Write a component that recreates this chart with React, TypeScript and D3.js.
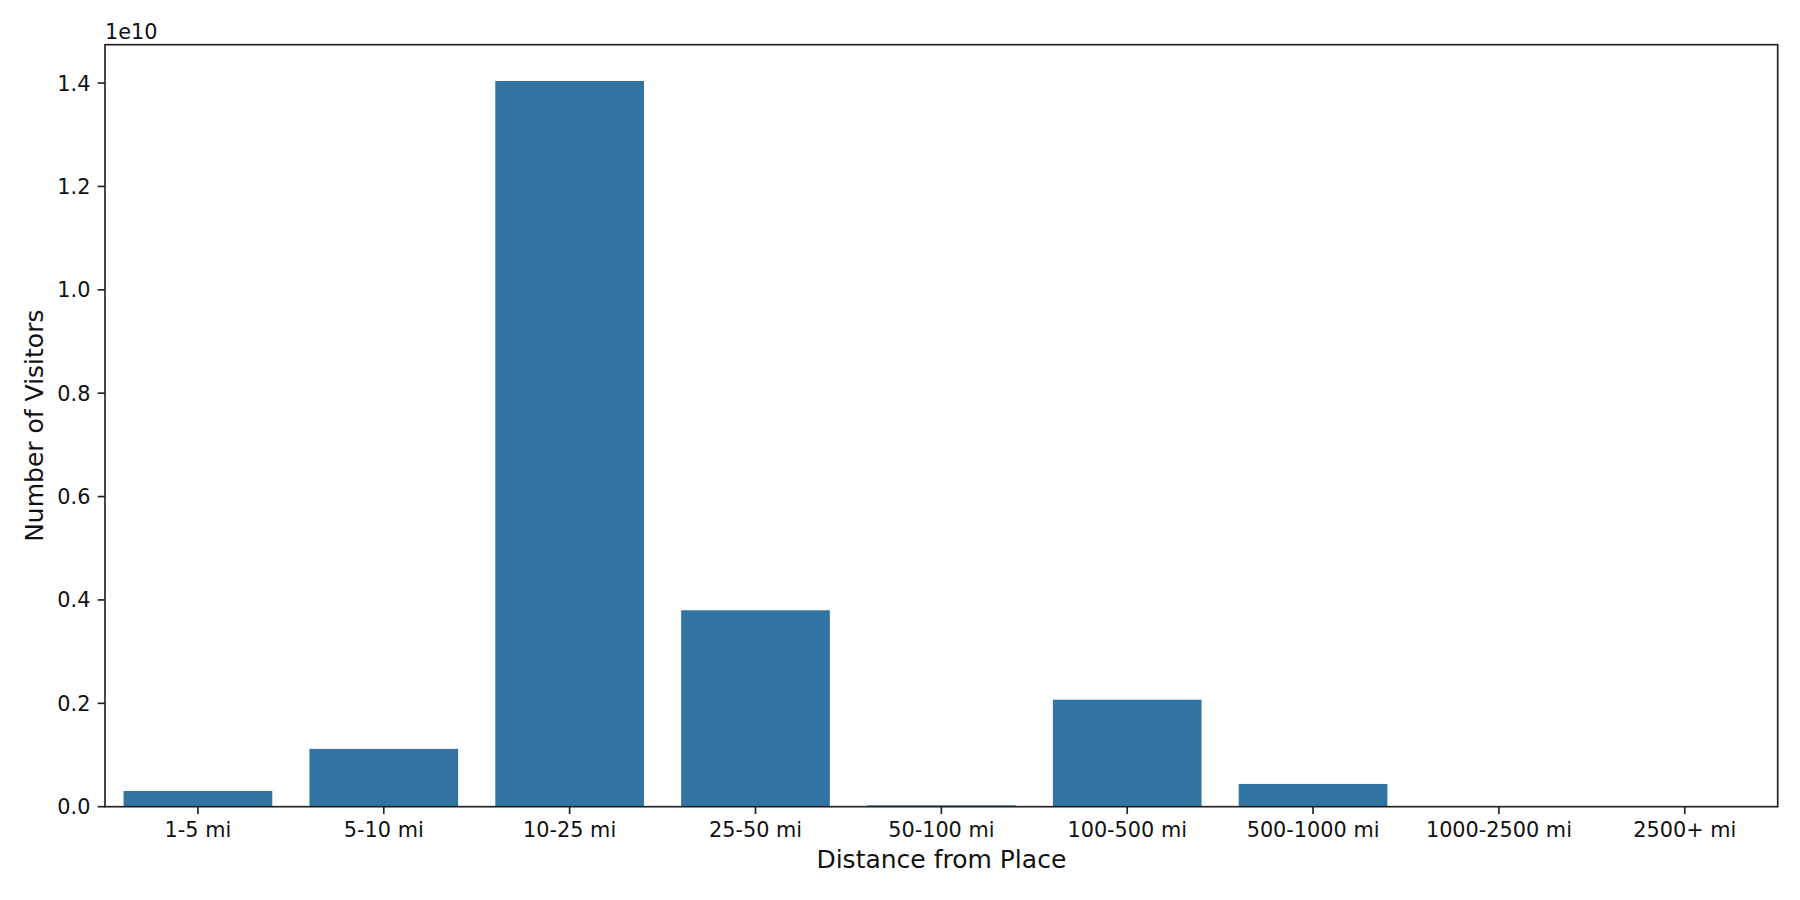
import React from "react";
import * as d3 from "d3";

const categories = ["1-5 mi", "5-10 mi", "10-25 mi", "25-50 mi", "50-100 mi", "100-500 mi", "500-1000 mi", "1000-2500 mi", "2500+ mi"];
const visitors = [3.04e8, 1.118e9, 1.404e10, 3.8e9, 2.7e7, 2.07e9, 4.4e8, 4e6, 2e6];
const yTicks = [0, 0.2e10, 0.4e10, 0.6e10, 0.8e10, 1.0e10, 1.2e10, 1.4e10];

const W = 1800, H = 900;
const L = 105, R = 1777.7, T = 44.7, B = 806.7;
const FONT = "DejaVu Sans, sans-serif";
const COLOR = "#3274a1";

export default function App() {
  const maxV = d3.max(visitors) as number;
  const y = d3.scaleLinear().domain([0, maxV * 1.05]).range([B, T]);
  const x = d3.scaleLinear().domain([-0.5, categories.length - 0.5]).range([L, R]);
  const bw = 0.8;
  return (
    <svg width={W} height={H} style={{ position: "absolute", left: 0, top: 0, background: "#fff" }} fontFamily={FONT}>
      <rect x={0} y={0} width={W} height={H} fill="#fff" />
      {visitors.map((v, i) => (
        <rect key={i} x={x(i - bw / 2)} width={x(i + bw / 2) - x(i - bw / 2)} y={y(v)} height={y(0) - y(v)} fill={COLOR} />
      ))}
      {yTicks.map((t, i) => (
        <g key={i}>
          <line x1={L - 7.3} x2={L} y1={y(t)} y2={y(t)} stroke="#222" strokeWidth={1.67} />
          <text x={L - 14.6} y={y(t)} dy="0.36em" textAnchor="end" fontSize={20.8} fill="#111">{(t / 1e10).toFixed(1)}</text>
        </g>
      ))}
      {categories.map((c, i) => (
        <g key={c}>
          <line x1={x(i)} x2={x(i)} y1={B} y2={B + 7.3} stroke="#222" strokeWidth={1.67} />
          <text x={x(i)} y={836.5} textAnchor="middle" fontSize={20.8} fill="#111">{c}</text>
        </g>
      ))}
      <rect x={L} y={T} width={R - L} height={B - T} fill="none" stroke="#222" strokeWidth={1.67} />
      <text x={L} y={39} fontSize={20.8} fill="#111">1e10</text>
      <text x={(L + R) / 2} y={868} textAnchor="middle" fontSize={25} fill="#111">Distance from Place</text>
      <text transform={`translate(43,${(T + B) / 2}) rotate(-90)`} textAnchor="middle" fontSize={25} fill="#111">Number of Visitors</text>
    </svg>
  );
}
